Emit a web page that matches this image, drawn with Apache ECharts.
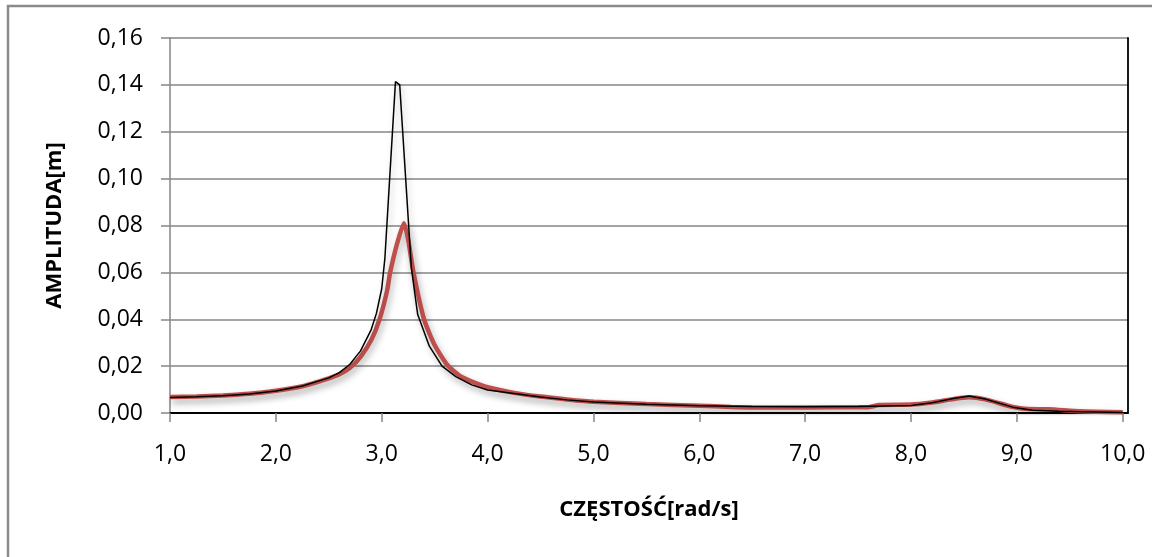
<!DOCTYPE html>
<html>
<head>
<meta charset="utf-8">
<script src="https://cdn.jsdelivr.net/npm/echarts@6/dist/echarts.min.js"></script>
<style>
  html, body { margin: 0; padding: 0; background: #fff; }
  #chart { width: 1152px; height: 557px; }
</style>
</head>
<body>
<div id="chart"></div>
<script>
// Frequency response: amplitude [m] versus frequency [rad/s]
const xTicks = [1, 2, 3, 4, 5, 6, 7, 8, 9, 10];
const yTicks = [0, 0.02, 0.04, 0.06, 0.08, 0.10, 0.12, 0.14, 0.16];

// thin black curve
const freqBlack = [1.0, 1.25, 1.5, 1.75, 2.0, 2.25, 2.5, 2.6, 2.7, 2.8, 2.9, 2.95, 3.0, 3.03,
  3.13, 3.17, 3.28, 3.34, 3.45, 3.57, 3.7, 3.85, 4.0, 4.25, 4.5, 4.75, 5.0, 5.5, 6.0, 6.5,
  7.0, 7.5, 8.0, 8.2, 8.4, 8.55, 8.7, 8.96, 9.15, 9.4, 9.6, 10.0];
const ampBlack = [0.0066, 0.0069, 0.0074, 0.0081, 0.0094, 0.0115, 0.0150, 0.0172, 0.0208, 0.0265, 0.0355, 0.0425, 0.0530, 0.0660,
  0.1414, 0.1400, 0.0620, 0.0420, 0.0285, 0.0200, 0.0155, 0.0120, 0.0098, 0.0083, 0.0068, 0.0056, 0.0047, 0.0037, 0.0031, 0.0028,
  0.0027, 0.0028, 0.0032, 0.0044, 0.0062, 0.0073, 0.0060, 0.0025, 0.0012, 0.0007, 0.0005, 0.0002];

// thick red curve
const freqRed = [1.0, 1.25, 1.5, 1.75, 2.0, 2.25, 2.5, 2.6, 2.7, 2.8, 2.9, 2.98, 3.05, 3.08,
  3.15, 3.21, 3.25, 3.30, 3.40, 3.5, 3.62, 3.75, 3.9, 4.0, 4.25, 4.5, 4.75, 5.0, 5.5, 6.0,
  6.3, 6.5, 7.0, 7.6, 7.7, 8.0, 8.2, 8.55, 8.7, 8.96, 9.1, 9.3, 9.6, 10.0];
const ampRed = [0.0068, 0.0070, 0.0075, 0.0082, 0.0095, 0.0114, 0.0148, 0.0165, 0.0193, 0.0240, 0.0310, 0.0400, 0.0520, 0.0600,
  0.0730, 0.0810, 0.0740, 0.0600, 0.0400, 0.0290, 0.0205, 0.0155, 0.0125, 0.0110, 0.0086, 0.0070, 0.0058, 0.0048, 0.0038, 0.0031,
  0.0026, 0.0024, 0.0024, 0.0025, 0.0034, 0.0036, 0.0045, 0.0067, 0.0058, 0.0026, 0.0017, 0.0016, 0.0007, 0.0003];

const pairs = (xs, ys) => xs.map((x, i) => [x, ys[i]]);
const comma = (v, d) => v.toFixed(d).replace('.', ',');

const FONT = 'Open Sans';
const GRAY = '#868686';

const chart = echarts.init(document.getElementById('chart'), null, { renderer: 'canvas' });

chart.setOption({
  animation: false,
  backgroundColor: '#ffffff',
  graphic: [{
    type: 'rect',
    shape: { x: 8, y: 6, width: 1300, height: 700 },
    style: { fill: 'none', stroke: '#8a8a8a', lineWidth: 2.5 },
    silent: true,
    z: -1
  }],
  grid: { left: 170, top: 38, right: 24, bottom: 144 },
  xAxis: [{
    type: 'value',
    min: 1,
    max: 10.05,
    name: 'CZĘSTOŚĆ[rad/s]',
    nameLocation: 'middle',
    nameGap: 86,
    nameTextStyle: { fontFamily: FONT, fontSize: 22, fontWeight: 'bold', color: '#000' },
    axisLine: { lineStyle: { color: GRAY, width: 1.5 } },
    axisTick: { show: true, length: 9, lineStyle: { color: GRAY, width: 1.5 }, customValues: xTicks },
    axisLabel: {
      customValues: xTicks,
      formatter: v => comma(v, 1),
      fontFamily: FONT, fontSize: 23, color: '#000', margin: 30
    },
    splitLine: { show: false }
  }, {
    type: 'value',
    position: 'top',
    min: 1,
    max: 10.05,
    axisLine: { show: true, lineStyle: { color: '#000', width: 1.8 } },
    axisTick: { show: false },
    axisLabel: { show: false },
    splitLine: { show: false }
  }],
  yAxis: [{
    type: 'value',
    min: 0,
    max: 0.16,
    interval: 0.02,
    name: 'AMPLITUDA[m]',
    nameLocation: 'middle',
    nameGap: 104,
    nameTextStyle: { fontFamily: FONT, fontSize: 22, fontWeight: 'bold', color: '#000' },
    axisLine: { show: true, lineStyle: { color: GRAY, width: 1.5 } },
    axisTick: { show: true, length: 9, lineStyle: { color: GRAY, width: 1.5 } },
    axisLabel: {
      formatter: v => comma(v, 2),
      fontFamily: FONT, fontSize: 23, color: '#000', margin: 27
    },
    splitLine: { show: true, lineStyle: { color: GRAY, width: 1.5 } }
  }, {
    type: 'value',
    position: 'right',
    min: 0,
    max: 0.16,
    interval: 0.02,
    axisLine: { show: true, lineStyle: { color: '#000', width: 1.8 } },
    axisTick: { show: false },
    axisLabel: { show: false },
    splitLine: { show: false }
  }],
  series: [{
    name: 'red',
    type: 'line',
    data: pairs(freqRed, ampRed),
    showSymbol: false,
    smooth: 0.2,
    lineStyle: {
      color: '#C0504D', width: 4.5,
      shadowColor: 'rgba(0,0,0,0.28)', shadowBlur: 7, shadowOffsetX: 2, shadowOffsetY: 4
    },
    z: 2
  }, {
    name: 'black',
    type: 'line',
    data: pairs(freqBlack, ampBlack),
    showSymbol: false,
    smooth: false,
    lineStyle: {
      color: '#000', width: 1.5,
      shadowColor: 'rgba(0,0,0,0.25)', shadowBlur: 6, shadowOffsetX: 2, shadowOffsetY: 4
    },
    z: 3
  }]
});
</script>
</body>
</html>
